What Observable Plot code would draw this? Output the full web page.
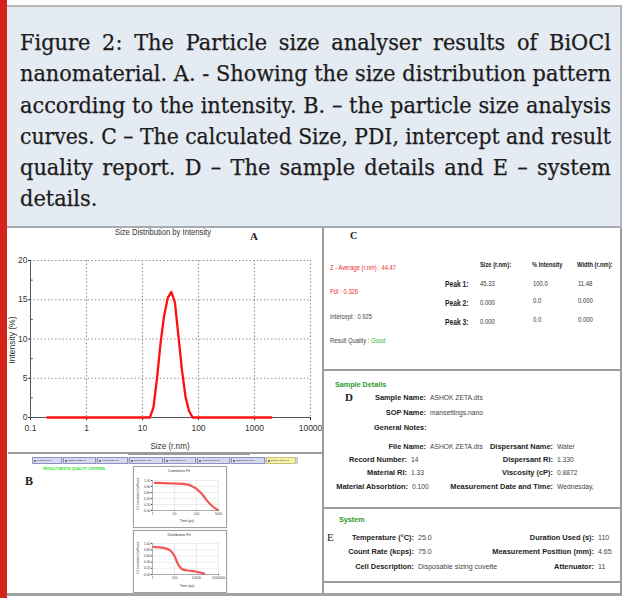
<!DOCTYPE html>
<html><head><meta charset="utf-8">
<script src="https://cdn.jsdelivr.net/npm/d3@7"></script>
<script src="https://cdn.jsdelivr.net/npm/@observablehq/plot@0.6"></script>
<style>
html,body{margin:0;padding:0;background:#fff;}
body{width:627px;height:598px;position:relative;overflow:hidden;font-family:"Liberation Sans",Arial,sans-serif;}
.abs{position:absolute;}
#redbar{left:0;top:0;width:7px;height:598px;background:#d3231a;}
#caption{left:7px;top:5px;width:613px;height:219px;background:#e4ebf2;border-top:2px solid #b4b7ba;border-right:2px solid #b4b7ba;border-bottom:2px solid #a8abae;box-sizing:content-box;}
#captext{position:absolute;left:13px;top:20px;width:622px;transform:scaleX(0.95);transform-origin:left top;font-family:"DejaVu Serif","Liberation Serif",serif;font-size:22px;line-height:31.3px;color:#1e1b1c;-webkit-text-stroke:0.25px #1e1b1c;}
#captext div{white-space:nowrap;text-align:justify;text-align-last:justify;}
#captext div.last{text-align-last:left;}
.line{position:absolute;background:#9c9c9c;}
.sbox{position:absolute;background:#fff;border:1px solid #a0a0a0;box-shadow:0 0 1px #ccc;}
#tabbar{display:flex;gap:1px;width:266px;height:7px;background:#c9cdea;}
.tab{flex:none;height:7px;background:#d6d9f1;border:1px solid #8e93c0;box-sizing:border-box;font-size:2.3px;line-height:5px;color:#222;white-space:nowrap;padding-left:4px;position:relative;}
.tab::before{content:"";position:absolute;left:1px;top:1.5px;width:2px;height:2px;background:#777;}
</style></head>
<body>
<div id="redbar" class="abs"></div>
<div id="caption" class="abs"><div id="captext"></div></div>
<div id="root"></div>
<script>
// ---------------- data ----------------
const captionLines = [
  "Figure 2: The Particle size analyser results of BiOCl",
  "nanomaterial. A. - Showing the size distribution pattern",
  "according to the intensity. B. \u2013 the particle size analysis",
  "curves. C \u2013 The calculated Size, PDI, intercept and result",
  "quality report. D \u2013 The sample details and E \u2013 system",
  "details."
];
// Panel A: size distribution by intensity
const sizeNm       = [0.2, 13.54, 15.69, 18.17, 21.04, 24.36, 28.21, 32.67, 37.84, 43.82, 50.75, 58.77, 68.06, 78.82, 2000];
const intensityPct = [0,   0,     1.3,   5.0,   9.5,   13.0,  15.2,  16.0,  14.7,  10.4,  6.0,   2.6,   0.8,   0,     0];
const sizeTicks = [0.1, 1, 10, 100, 1000, 10000];
const sizeTickLabels = ["0.1", "1", "10", "100", "1000", "10000"];
const intensityTicks = [0, 5, 10, 15, 20];
const intensityMinor = [2.5, 7.5, 12.5, 17.5];
// Panel B: small fit curves
const cumTime  = [1.3, 3, 10, 36, 60, 100, 200, 300, 500, 900];
const cumCorr  = [0.92, 0.91, 0.9, 0.87, 0.82, 0.72, 0.5, 0.33, 0.16, 0.02];
const cumTicks = [1, 10, 100, 1000];
const distTime = [1.2, 10, 40, 100, 200, 400, 700, 3000, 10000, 50000];
const distCorr = [0.89, 0.86, 0.78, 0.6, 0.35, 0.2, 0.15, 0.12, 0.09, 0.03];
const distTicks = [1, 100, 10000, 1000000];
const corrTicks = [0, 0.2, 0.4, 0.6, 0.8, 1.0];
const tabNames = ["Records View", "Intensity PSD (M)", "Volume PSD (M)", "Size quality repo...", "Correlogram (M)", "Cumulants Fit (M)", "Distribution Fit (M)", "Expert Advice (M)"];
// Panel C
const cLeftLabels = ["Z - Average (r.nm) : ", "PdI : ", "Intercept : ", "Result Quality : "];
const cLeftValues = ["44.47", "0.326", "0.925", "Good"];
const cHeaders = ["Size (r.nm):", "% Intensity", "Width (r.nm):"];
const peakNames = ["Peak 1:", "Peak 2:", "Peak 3:"];
const peakSize = ["45.33", "0.000", "0.000"];
const peakIntensity = ["100.0", "0.0", "0.0"];
const peakWidth = ["11.48", "0.000", "0.000"];
// Panel D
const dTopLabels = ["Sample Name:", "SOP Name:"];
const dTopValues = ["ASHOK ZETA.dts", "mansettings.nano"];
const dLeftLabels = ["File Name:", "Record Number:", "Material RI:", "Material Absorbtion:"];
const dLeftValues = ["ASHOK ZETA.dts", "14", "1.33", "0.100"];
const dRightLabels = ["Dispersant Name:", "Dispersant RI:", "Viscosity (cP):", "Measurement Date and Time:"];
const dRightValues = ["Water", "1.330", "0.8872", "Wednesday,"];
// Panel E
const eLeftLabels = ["Temperature (\u00b0C):", "Count Rate (kcps):", "Cell Description:"];
const eLeftValues = ["25.0", "75.0", "Disposable sizing cuvette"];
const eRightLabels = ["Duration Used (s):", "Measurement Position (mm):", "Attenuator:"];
const eRightValues = ["110", "4.65", "11"];

// ---------------- helpers ----------------
const SANS = '"Liberation Sans",Arial,sans-serif';
const SERIF = '"Liberation Serif","DejaVu Serif",serif';
const root = document.getElementById("root");
function txt(x, y, s, o = {}) {
  const size = o.size || 8;
  const d = document.createElement("div");
  d.className = "abs";
  d.textContent = s;
  d.style.left = x + "px";
  d.style.top = (y - size * 0.6) + "px";
  d.style.fontSize = size + "px";
  d.style.lineHeight = (size * 1.2) + "px";
  d.style.fontFamily = o.family || SANS;
  d.style.fontWeight = o.weight || 400;
  d.style.color = o.color || "#333";
  d.style.whiteSpace = "nowrap";
  let tr = "";
  if (o.anchor === "end") tr += "translateX(-100%) ";
  if (o.anchor === "middle") tr += "translateX(-50%) ";
  if (o.rotate) tr += "rotate(" + o.rotate + "deg) ";
  if (o.sx) tr += "scaleX(" + o.sx + ") ";
  if (tr) d.style.transform = tr;
  d.style.transformOrigin = o.anchor === "end" ? "right center" : (o.anchor === "middle" ? "center center" : "left center");
  if (o.html) d.innerHTML = o.html;
  root.appendChild(d);
  return d;
}
function line(x, y, w, h, c) {
  const d = document.createElement("div");
  d.className = "line";
  Object.assign(d.style, {left: x + "px", top: y + "px", width: w + "px", height: h + "px"});
  if (c) d.style.background = c;
  root.appendChild(d);
}
function place(el, x, y) {
  el.style.position = "absolute";
  el.style.left = x + "px";
  el.style.top = y + "px";
  root.appendChild(el);
}

// ---------------- caption ----------------
const ct = document.getElementById("captext");
captionLines.forEach((l, i) => {
  const d = document.createElement("div");
  d.textContent = l;
  if (i === captionLines.length - 1) d.className = "last";
  ct.appendChild(d);
});

// ---------------- frame lines ----------------
line(322, 228, 2, 367);
line(8, 452, 314, 2);
line(323, 369, 298, 2);
line(323, 507, 298, 2);
line(323, 581, 298, 2);
line(7, 593, 615, 3, "#a2a2a2");
line(620, 228, 2, 368);

// ---------------- Panel A ----------------
const distData = sizeNm.map((s, i) => ({size: s, intensity: intensityPct[i]}));
const plotA = Plot.plot({
  width: 314, height: 223,
  marginLeft: 22, marginRight: 12, marginTop: 31, marginBottom: 35,
  style: {fontFamily: SANS, fontSize: "8.5px", color: "#333", background: "transparent"},
  x: {type: "log", domain: [0.1, 10000], ticks: sizeTicks, tickFormat: (d) => sizeTickLabels[sizeTicks.indexOf(d)], tickSize: 3, tickPadding: 4, label: null},
  y: {domain: [0, 20], ticks: intensityTicks, tickSize: 2, tickPadding: 1, label: null},
  marks: [
    Plot.ruleX(sizeTicks.slice(1), {stroke: "#8a8a8a", strokeDasharray: "1.4,2.2", strokeWidth: 1.1}),
    Plot.ruleY(intensityTicks.slice(1), {stroke: "#8a8a8a", strokeDasharray: "1.4,2.2", strokeWidth: 1.1}),
    Plot.ruleY(intensityMinor, {x1: 0.1, x2: 0.112, stroke: "#555"}),
    Plot.ruleY([0], {stroke: "#555", strokeWidth: 1}),
    Plot.ruleX([0.1], {stroke: "#555", strokeWidth: 1}),
    Plot.line(distData, {x: "size", y: "intensity", stroke: "#ff1010", strokeWidth: 2.3})
  ]
});
place(plotA, 8, 229);
txt(163, 232, "Size Distribution by Intensity", {size: 8.5, anchor: "middle", color: "#333", sx: 0.9});
txt(250, 237, "A", {size: 11, family: SERIF, weight: 700, color: "#222"});
txt(170, 446, "Size (r.nm)", {size: 9, anchor: "middle", sx: 0.9});
txt(12, 340, "Intensity (%)", {size: 8.5, anchor: "middle", rotate: -90});

// ---------------- Panel B ----------------
const tabBar = document.createElement("div");
tabBar.id = "tabbar";
const tabW = [30, 33, 31, 34, 32, 33, 34, 30];
tabNames.forEach((n, i) => {
  const s = document.createElement("div");
  s.className = "tab";
  s.textContent = n;
  s.style.width = tabW[i] + "px";
  if (i === tabNames.length - 1) { s.style.background = "#f4f1a6"; s.style.borderColor = "#c8c27a"; }
  tabBar.appendChild(s);
});
place(tabBar, 32, 457);
line(128, 453, 122, 2, "#9a9a9a");
txt(43, 469, "RESULT MEETS QUALITY CRITERIA", {size: 3.6, color: "#2ee52e", weight: 700});
txt(25, 481, "B", {size: 12, family: SERIF, weight: 700, color: "#222"});

function smallChart(top, height, title, xs, ys, ticks, mt, mb) {
  const box = document.createElement("div");
  box.className = "sbox";
  box.style.width = "92px";
  box.style.height = height + "px";
  place(box, 133, top);
  const data = xs.map((x, i) => ({t: x, g: ys[i]}));
  const p = Plot.plot({
    width: 92, height: height,
    marginLeft: 18, marginRight: 8, marginTop: mt, marginBottom: mb,
    style: {fontFamily: SANS, fontSize: "3.4px", color: "#444", background: "transparent"},
    x: {type: "log", domain: [ticks[0], ticks[ticks.length - 1]], ticks: ticks, tickFormat: (d) => String(d), tickSize: 1, tickPadding: 1, label: null},
    y: {domain: [0, 1.0], ticks: corrTicks, tickFormat: (d) => d.toFixed(2), tickSize: 1, tickPadding: 1, label: null},
    marks: [
      Plot.ruleX(ticks, {stroke: "#d8d8d8", strokeWidth: 0.5}),
      Plot.ruleY(corrTicks, {stroke: "#d8d8d8", strokeWidth: 0.5}),
      Plot.ruleY([0], {stroke: "#777", strokeWidth: 0.5}),
      Plot.ruleX([ticks[0]], {stroke: "#777", strokeWidth: 0.5}),
      Plot.line(data, {x: "t", y: "g", stroke: "#f03a3a", strokeWidth: 2.2, curve: "monotone-x", strokeOpacity: 0.85})
    ]
  });
  p.style.position = "absolute";
  p.style.left = "0px";
  p.style.top = "0px";
  box.appendChild(p);
  txt(179, top + 5, title, {size: 3.6, anchor: "middle", color: "#333"});
  txt(187, top + height - 5, "Time (\u00b5s)", {size: 3.4, anchor: "middle", color: "#333"});
  txt(139, top + mt + (height - mt - mb) / 2, "G1 Correlation Coefficient", {size: 2.8, anchor: "middle", rotate: -90, color: "#444"});
}
smallChart(466, 60, "Cumulants Fit", cumTime, cumCorr, cumTicks, 13, 17);
smallChart(530, 61, "Distribution Fit", distTime, distCorr, distTicks, 12, 18);

// ---------------- Panel C ----------------
txt(350, 236, "C", {size: 10, family: SERIF, weight: 700, color: "#222"});
const cYs = [268, 292, 317, 341];
cLeftLabels.forEach((l, i) => {
  const red = i < 2;
  const valColor = i === 3 ? "#2eb82e" : (red ? "#e83030" : "#444");
  txt(330, cYs[i], "", {size: 6.6, color: red ? "#e83030" : "#444", sx: 0.88,
    html: l + '<span style="color:' + valColor + '">' + cLeftValues[i] + '</span>'});
});
const colX = [480, 532, 577];
cHeaders.forEach((h, i) => txt(colX[i], 265, h, {size: 7.4, weight: 700, color: "#222", sx: 0.78}));
const pYs = [284, 303, 322];
peakNames.forEach((p, i) => {
  txt(445, pYs[i], p, {size: 8.4, weight: 700, color: "#222", sx: 0.8});
  txt(480, pYs[i], peakSize[i], {size: 7.4, color: "#333", sx: 0.8});
  txt(533, pYs[i] - (i ? 2 : 0), peakIntensity[i], {size: 7.4, color: "#333", sx: 0.8});
  txt(578, pYs[i] - (i ? 2 : 0), peakWidth[i], {size: 7.4, color: "#333", sx: 0.8});
});

// ---------------- Panel D ----------------
const LS = 7.8, VS = 7.8;
txt(335, 385, "Sample Details", {size: 8, weight: 700, color: "#2e9a2e", sx: 0.9});
txt(345, 398, "D", {size: 11, family: SERIF, weight: 700, color: "#222"});
const dTopYs = [398, 413];
dTopLabels.forEach((l, i) => {
  txt(426, dTopYs[i], l, {size: LS, weight: 700, anchor: "end", color: "#222", sx: 0.95});
  txt(430, dTopYs[i], dTopValues[i], {size: VS, color: "#444", sx: 0.86});
});
txt(374, 428, "General Notes:", {size: LS, weight: 700, color: "#222", sx: 0.95});
const dYs = [447, 460, 473, 487];
const dLabelEnd = [426, 407, 407, 408];
dLeftLabels.forEach((l, i) => {
  txt(dLabelEnd[i], dYs[i], l, {size: LS, weight: 700, anchor: "end", color: "#222", sx: 0.95});
  txt(dLabelEnd[i] + 4, dYs[i], dLeftValues[i], {size: VS, color: "#444", sx: 0.86});
});
dRightLabels.forEach((l, i) => {
  txt(553, dYs[i], l, {size: LS, weight: 700, anchor: "end", color: "#222", sx: 0.95});
  txt(557, dYs[i], dRightValues[i], {size: VS, color: "#444", sx: 0.86});
});

// ---------------- Panel E ----------------
txt(339, 520, "System", {size: 8, weight: 700, color: "#2e9a2e", sx: 0.9});
txt(327, 538, "E", {size: 11, family: SERIF, weight: 400, color: "#222"});
const eYs = [538, 552, 567];
eLeftLabels.forEach((l, i) => {
  txt(414, eYs[i], l, {size: LS, weight: 700, anchor: "end", color: "#222", sx: 0.95});
  txt(418, eYs[i], eLeftValues[i], {size: VS, color: "#444", sx: 0.9});
});
eRightLabels.forEach((l, i) => {
  txt(594, eYs[i], l, {size: LS, weight: 700, anchor: "end", color: "#222", sx: 0.95});
  txt(598, eYs[i], eRightValues[i], {size: VS, color: "#444", sx: 0.9});
});

// fit caption lines if needed
ct.querySelectorAll("div").forEach((d) => {
  if (d.scrollWidth > d.clientWidth + 0.5) {
    const r = d.clientWidth / d.scrollWidth;
    d.style.fontSize = (22 * r) + "px";
  }
});
</script>
</body></html>
